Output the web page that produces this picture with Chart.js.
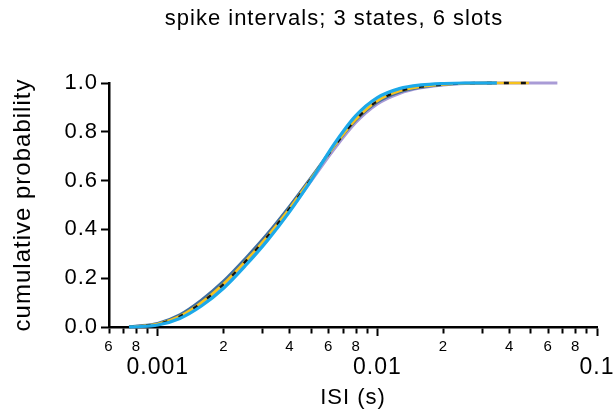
<!DOCTYPE html>
<html>
<head>
<meta charset="utf-8">
<script src="https://cdn.jsdelivr.net/npm/chart.js@4/dist/chart.umd.min.js"></script>
<style>
  html, body { margin: 0; padding: 0; background: #fff; }
  #wrap { width: 615px; height: 415px; position: relative; }
</style>
</head>
<body>
<div id="wrap"><canvas id="c"></canvas></div>
<script>
// ---- data ----
const chartTitle = 'spike intervals; 3 states, 6 slots';
const xAxisTitle = 'ISI (s)';
const yAxisTitle = 'cumulative probability';

// ISI sample points (s)
const isi = [0.00074, 0.00079, 0.001, 0.00126, 0.00158, 0.002, 0.00251, 0.00316, 0.00398, 0.00501,
             0.00631, 0.00794, 0.01, 0.0126, 0.0158, 0.02, 0.0251, 0.0316, 0.035, 0.049, 0.066];

// cumulative probability per slot (each series ends where its trace ends)
const skyBlue   = [0, 0.001, 0.008, 0.035, 0.086, 0.160, 0.252, 0.355, 0.472, 0.603,
                   0.745, 0.864, 0.940, 0.977, 0.992, 0.998, 1.000, 1.000, 1.000];
const steelBlue = [0, 0.003, 0.015, 0.050, 0.110, 0.189, 0.281, 0.382, 0.494, 0.614,
                   0.737, 0.846, 0.922, 0.963, 0.983, 0.994, 0.999, 1.000, 1.000];
const yellow    = [0, 0.002, 0.012, 0.044, 0.100, 0.178, 0.270, 0.372, 0.486, 0.610,
                   0.737, 0.849, 0.927, 0.967, 0.985, 0.994, 0.999, 1.000, 1.000, 1.000];
const blackDash = [0, 0.002, 0.012, 0.043, 0.099, 0.177, 0.269, 0.371, 0.485, 0.609,
                   0.736, 0.848, 0.926, 0.966, 0.985, 0.994, 0.999, 1.000, 1.000, 1.000];
const purple    = [0, 0.002, 0.011, 0.041, 0.095, 0.171, 0.262, 0.364, 0.478, 0.600,
                   0.725, 0.836, 0.914, 0.957, 0.980, 0.992, 0.998, 0.9995, 1.000, 1.000, 1.000];

const xTickValues   = [0.0006, 0.0007, 0.0008, 0.0009,
                       0.001, 0.002, 0.003, 0.004, 0.005, 0.006, 0.007, 0.008, 0.009,
                       0.01, 0.02, 0.03, 0.04, 0.05, 0.06, 0.07, 0.08, 0.09, 0.1];
const xMinorLabels  = ['6', '', '8', '',
                       '', '2', '', '4', '', '6', '', '8', '',
                       '', '2', '', '4', '', '6', '', '8', '', ''];
const xDecadeLabels = ['', '', '', '',
                       '0.001', '', '', '', '', '', '', '', '',
                       '0.01', '', '', '', '', '', '', '', '', '0.1'];
const yTickValues = [0, 0.2, 0.4, 0.6, 0.8, 1.0];
const yTickLabels = ['0.0', '0.2', '0.4', '0.6', '0.8', '1.0'];

// ---- chart ----
const FONT = '"Liberation Sans", Arial, Helvetica, sans-serif';
Chart.defaults.font.family = FONT;
Chart.defaults.color = '#000';

function pts(ys) { return ys.map((y, i) => ({ x: isi[i], y: y })); }

const spacing = {
  id: 'spacing',
  beforeUpdate(chart) { chart.ctx.letterSpacing = '1px'; },
  beforeDraw(chart) { chart.ctx.letterSpacing = '1px'; }
};
const topTitle = {
  id: 'topTitle',
  afterDraw(chart) {
    const c = chart.ctx;
    c.save();
    c.font = '22px ' + FONT;
    c.fillStyle = '#000';
    c.textAlign = 'center';
    c.textBaseline = 'middle';
    c.fillText(chartTitle, 334, 19);
    c.restore();
  }
};

const lineBase = { pointRadius: 0, fill: false, cubicInterpolationMode: 'monotone', clip: 5 };

new Chart(document.getElementById('c'), {
  type: 'line',
  data: {
    datasets: [
      Object.assign({ label: 'slot 6', data: pts(skyBlue),   borderColor: '#1CA9E9', borderWidth: 3.2 }, lineBase),
      Object.assign({ label: 'slot 5', data: pts(blackDash), borderColor: '#111111', borderWidth: 2.4, borderDash: [5, 12] }, lineBase),
      Object.assign({ label: 'slot 4', data: pts(yellow),    borderColor: '#F6C21C', borderWidth: 2.6 }, lineBase),
      Object.assign({ label: 'slot 3', data: pts(steelBlue), borderColor: '#3F6FA2', borderWidth: 3 }, lineBase),
      Object.assign({ label: 'slot 2', data: pts(purple),    borderColor: '#A99BD6', borderWidth: 3 }, lineBase)
    ]
  },
  options: {
    responsive: true,
    maintainAspectRatio: false,
    animation: false,
    layout: { padding: { top: 83, right: 18, bottom: 0, left: 0 } },
    plugins: { legend: { display: false }, title: { display: false }, tooltip: { enabled: false } },
    scales: {
      x: {
        type: 'logarithmic', position: 'bottom', min: 0.0006, max: 0.1,
        afterBuildTicks: s => { s.ticks = xTickValues.map(v => ({ value: v })); },
        afterFit: s => { s.height = 27; },
        grid: {
          drawOnChartArea: false, drawTicks: true, tickLength: 9,
          tickColor: '#000', tickWidth: 2,
          tickBorderDash: ctx => (xDecadeLabels[ctx.index] ? [] : [5, 40])
        },
        border: { display: true, color: '#000', width: 2.5 },
        ticks: {
          autoSkip: false, maxRotation: 0, minRotation: 0, padding: 2,
          font: { size: 15 },
          callback: (v, i) => xMinorLabels[i]
        }
      },
      x2: {
        type: 'logarithmic', position: 'bottom', min: 0.0006, max: 0.1,
        afterBuildTicks: s => { s.ticks = xTickValues.map(v => ({ value: v })); },
        afterFit: s => { s.height = 61; },
        grid: { display: false, drawTicks: false },
        border: { display: false },
        ticks: {
          autoSkip: false, maxRotation: 0, minRotation: 0, padding: 0,
          font: { size: 23 },
          callback: (v, i) => xDecadeLabels[i]
        },
        title: { display: true, text: xAxisTitle, font: { size: 22 }, padding: { top: 0, bottom: 4 } }
      },
      y: {
        type: 'linear', min: 0, max: 1,
        afterBuildTicks: s => { s.ticks = yTickValues.map(v => ({ value: v })); },
        afterFit: s => { s.width = 109; },
        grid: { drawOnChartArea: false, drawTicks: true, tickLength: 8, tickColor: '#000', tickWidth: 2 },
        border: { display: true, color: '#000', width: 2.5 },
        ticks: { padding: 3, font: { size: 22 }, callback: (v, i) => yTickLabels[i] },
        title: { display: true, text: yAxisTitle, font: { size: 24 }, padding: { top: 9, bottom: 0 } }
      }
    }
  },
  plugins: [spacing, topTitle]
});
</script>
</body>
</html>
